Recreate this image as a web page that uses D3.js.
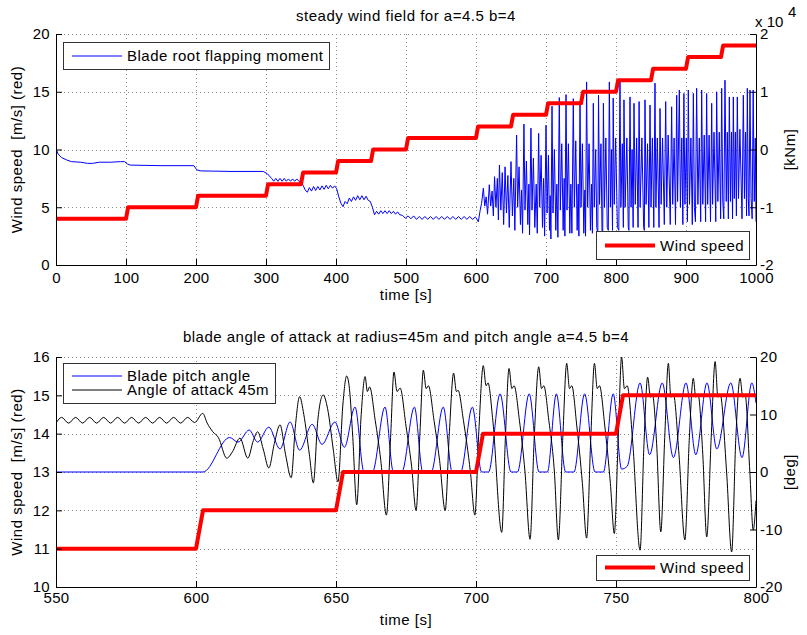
<!DOCTYPE html>
<html>
<head>
<meta charset="utf-8">
<script src="https://cdn.jsdelivr.net/npm/d3@7"></script>
<style>
body { margin: 0; background: #fff; }
text { font-family: "Liberation Sans", Arial, sans-serif; font-size: 15px; fill: #000; white-space: pre; }
.lbl { letter-spacing: 0.5px; }
.tick text { letter-spacing: 0.3px; }
</style>
</head>
<body>
<svg id="chart" width="807" height="635"></svg>
<script>
// ---- data ----
// top panel: wind speed [m/s], time [s]
const windTop = [[0,4],[100,4],[103,5],[200,5],[203,6],[300,6],[303,7],[350,7],[353,8],[400,8],[403,9],[450,9],[453,10],
  [500,10],[503,11],[600,11],[603,12],[650,12],[653,13],[700,13],[703,14],[750,14],[753,15],[800,15],[803,16],
  [850,16],[853,17],[900,17],[903,18],[950,18],[953,19],[1000,19]];

// top panel: blade root flapping moment, x 10^4 kNm, steady part 0-600 s
const momentSteady = [[0,0.02],[3,-0.08],[8,-0.14],[15,-0.18],[22,-0.21],[35,-0.22],[45,-0.24],[52,-0.24],[62,-0.22],
  [78,-0.22],[92,-0.21],[98,-0.21],[102,-0.25],[106,-0.27],[150,-0.28],[197,-0.28],[201,-0.35],[206,-0.37],[250,-0.38],
  [296,-0.38],[302,-0.42],[308,-0.5],[311,-0.55],[314,-0.5],[317,-0.55],[320,-0.5],[323,-0.55],[326,-0.5],[329,-0.55],
  [332,-0.51],[335,-0.55],[338,-0.51],[341,-0.55],[344,-0.51],[347,-0.55],[350,-0.55],[353,-0.62],[356,-0.7],[359,-0.74],
  [362,-0.66],[365,-0.72],[368,-0.64],[371,-0.71],[374,-0.64],[377,-0.7],[380,-0.63],[383,-0.69],[386,-0.62],[389,-0.68],
  [392,-0.62],[395,-0.67],[398,-0.63],[401,-0.68],[404,-0.82],[407,-0.93],[410,-0.99],[413,-0.9],[416,-0.94],[419,-0.84],
  [422,-0.9],[425,-0.82],[428,-0.88],[431,-0.8],[434,-0.87],[437,-0.8],[440,-0.87],[443,-0.81],[446,-0.88],[449,-0.9],
  [452,-1.0],[455,-1.13],[458,-1.07],[461,-1.12],[464,-1.06],[467,-1.11],[470,-1.06],[473,-1.11],[476,-1.06],[479,-1.11],
  [482,-1.07],[485,-1.12],[488,-1.08],[491,-1.13],[495,-1.14],[499,-1.19],[503,-1.15],[507,-1.2],[511,-1.15],[515,-1.21],
  [519,-1.16],[523,-1.21],[527,-1.16],[531,-1.21],[535,-1.16],[539,-1.21],[543,-1.16],[547,-1.21],[551,-1.16],[555,-1.21],
  [559,-1.16],[563,-1.21],[567,-1.16],[571,-1.21],[575,-1.16],[579,-1.21],[583,-1.16],[587,-1.21],[591,-1.16],[595,-1.21],
  [599,-1.17],[600,-1.18]];

// top panel: flapping moment, oscillating part 600-1000 s
const momentOsc = [[600,-1.18],[603.3,-1.25],[606,-1.05],[608,-0.93],[610.5,-0.67],[612.5,-0.98],[614.5,-0.82],[616.5,-1.12],
  [619,-0.61],[621,-0.98],[623,-0.72],[624.8,-1.15],[626.5,-0.47],[628.5,-1.0],[630.5,-0.5],[632,-1.22],[633.5,-0.27],
  [635.5,-1.05],[637.5,-0.4],[639.5,-1.3],[641.5,-0.3],[643.5,-1.1],[645.5,-0.45],[647.5,-1.35],[650,-0.21],[652,-1.15],
  [654,-0.5],[655.5,-1.4],
  [658,0.25],[659.5,-1.0],[661.5,-0.3],[663.5,-1.3],[665,-0.7],[666.5,-1.45],
  [668.5,0.44],[670,-1.05],[672,-0.2],[674,-1.3],[675.5,-0.6],[676.5,-1.48],
  [678.5,0.37],[680,-1.05],[682,-0.15],[684,-1.35],[686,-0.6],[687.5,-1.45],
  [689.5,0.28],[691,-1.0],[693,-0.1],[695,-1.35],[696.5,-0.5],[698,-1.5],
  [700,0.42],[701.5,-1.1],[703.5,-0.1],[705,-1.4],[706,-0.8],[707,-1.55],
  [708.6,0.75],[710,-1.1],[712,0.0],[714,-1.4],[715.5,-0.6],[717,-1.52],
  [719,0.9],[720.5,-1.05],[722.5,0.1],[724.5,-1.4],[726,-0.5],[727,-1.5],
  [728.6,0.95],[730,-1.05],[732,0.1],[734,-1.45],[735.5,-0.6],[737,-1.45],
  [739,0.88],[740.5,-1.0],[742.5,0.15],[744.5,-1.4],[746,-0.6],[747,-1.5],
  [748.6,0.83],[750,-1.0],[752,0.1],[754,-1.45],[755.5,-0.7],[756.5,-1.5],
  [758,1.17],[759.5,-1.0],[761.5,0.1],[763.5,-1.4],[765,-0.6],[766.3,-1.45],
  [767.6,0.8],[769,-1.0],[771,0.0],[772.5,-1.35],[774,-1.45],
  [775,0.94],[776.5,-0.95],[778.5,0.1],[780,-1.4],[781,-1.45],
  [782,0.8],[783.5,-1.0],[785.5,0.2],[787.5,-1.35],[789,-1.4],
  [790.5,1.17],[792,-1.0],[793.5,0.0],[795,-1.4],
  [796,0.89],[797.5,-0.95],[799.5,0.2],[802,-1.35],[804,-1.4],
  [805.7,1.2],[807,-1.0],[809,0.1],[810.5,-1.35],
  [811.4,0.86],[813,-1.0],[815.5,0.2],[817.5,-1.35],[818.5,-1.4],
  [820,0.91],[821.5,-1.0],[823,0.0],[824.5,-1.35],
  [825.7,0.8],[827.5,-0.95],[829.5,0.2],[831.5,-1.35],
  [833,0.83],[834.5,-1.0],[837,0.2],[839.5,-1.35],[840.5,-1.4],
  [841.4,0.86],[843,-0.95],[845,0.1],[847,-1.35],
  [848.6,0.77],[850,-1.0],[852,0.2],[854,-1.35],
  [855.7,1.15],[857,-1.0],[859,0.2],[861.5,-1.35],
  [862.9,0.71],[864.5,-0.95],[866.5,0.2],[869,-1.3],
  [871,0.83],[872.5,-1.0],[874.5,0.25],[877.5,-1.3],
  [879.5,0.74],[881,-0.95],[883,0.2],[885,-1.3],
  [886.7,0.94],[888,-0.9],[890.5,1.03],[892,-1.0],[894,0.2],[895.5,-1.3],
  [897,0.97],[898.5,-0.95],[900.5,0.2],[902,-1.25],
  [903.3,1.03],[905,-0.95],[907,0.2],[909,-1.3],
  [910.5,0.97],[912,-1.0],[913.5,-1.25],[915.2,1.06],[917,-0.95],[919,0.2],[921,-1.25],
  [922.4,1.03],[924,-0.95],[926,0.25],[928,-1.25],
  [929.5,0.97],[931,-0.95],[933,0.25],[935,-1.25],
  [936.7,0.8],[938,-0.95],[940,0.3],[942.5,-1.25],
  [943.8,1.0],[945.5,-0.9],[947.5,0.3],[949.5,-1.2],
  [951,1.06],[952.5,-0.9],[954,-1.2],
  [955.7,1.2],[957.5,-0.9],[959,0.3],[960.5,-1.2],
  [961.9,0.91],[963.5,-0.9],[965,0.3],[966.5,-1.2],
  [967.6,0.91],[969,-0.85],[970.5,0.3],[972,-1.15],
  [973.3,0.91],[975,-0.85],[977,0.35],[980,-1.2],
  [981.9,0.94],[983.5,-0.85],[985,0.3],[986.5,-1.15],
  [987.6,1.06],[989,-0.85],[990,-1.15],
  [991.4,1.03],[993,-0.85],[994.5,-1.2],
  [996,1.03],[997.5,-0.9],[999,0.2],[1000,-1.25]];

// bottom panel: wind speed [m/s]
const windBottom = [[550,11],[600,11],[602.5,12],[650,12],[652.5,13],[700,13],[702.5,14],[750,14],[752.5,15],[800,15]];

// bottom panel: blade pitch angle [deg]
const pitchAngle = [[550,0],[602.5,0],[612,6],[615,5.2],[619,7.3],[622,5.2],[626,7.8],[630,4],[633.6,8.7],[637,3.8],
  [641.5,8.3],[645,4.8],[649.6,8.7],[653,4.3],[656.8,11.3],[660,0],[663,0],[667.5,11.3],[670.5,0],[673.5,0],[678,11.3],
  [681,0],[684,0],[688.3,11.3],[691.5,0],[694.5,0],[698.7,11.3],[702,0],[704.5,0],[708.6,13.6],[712.5,0],[714.8,0],
  [719,13.6],[722.5,0],[725.5,0],[728.7,13.6],[732,0],[735,0],[738.8,13.6],[742.5,0],[745.5,0],[749,13.6],[752,0.5],
  [754,1],[758.6,15.5],[762,3],[766.5,15.5],[770.5,2.5],[775,15.5],[778.5,3],[782.5,15.5],[786,4],[791,15.5],[795,2.5],
  [798.5,15.5],[800,12]];

// bottom panel: angle of attack at 45 m [deg]
const attackAngle = [[550,8.5],[552,9.5],[554.5,8.5],[557,9.5],[559.5,8.5],[562,9.5],[564.5,8.5],[567,9.5],[569.5,8.5],
  [572,9.5],[574.5,8.5],[577,9.5],[579.5,8.5],[582,9.5],[584.5,8.5],[587,9.5],[589.5,8.5],[592,9.5],[594.5,8.5],[597,9.5],
  [599.5,8.6],[602.4,10.2],[604,8.5],[606,7],[608,6],[611,2.4],[613,3.5],[615.7,5.9],[618.5,2.4],[620.5,5.5],[622,7],
  [624,4],[626,0.7],[628,5],[630,8.2],[632,3],[634,-1],[635.5,8],[637,13.1],[638.5,10],[640.5,3],[641.9,-1.9],[643.5,9],
  [645.4,13.4],[647,11],[649,4],[650.7,-1.7],[652.5,12],[653.8,16.7],[654.8,14.5],[656,6],[657.4,-5.7],[659,10],
  [660.4,16.6],[661.2,14],[662,14.8],[664,9],[666,2],[668,-7.5],[669.5,6],[670.7,17.4],[671.8,14],[672.9,14.6],[675,8],
  [677,1],[678.6,-6.7],[680,7],[681.2,17.7],[682.2,14.5],[683,15],[685,9],[687,2],[689,-6.7],[690.5,7],[692,17.2],
  [693,14],[693.6,14.2],[695.5,9],[698,0],[699.6,-7.5],[701,7],[702.6,18.5],[703.6,15],[704.3,15.5],[706,9],
  [709.2,-10.5],[710.5,6],[711.8,18],[712.8,14.5],[713.6,15],[715.5,9],[717.5,0],[719.3,-11.7],[720.8,6],[722.4,18.3],
  [723.4,14.5],[724.2,15],[726,9],[728,0],[729.4,-11.8],[731,6],[732.4,18.9],[733.4,14.5],[734.2,15],[736,8],[738,-2],
  [739.5,-11.5],[741,6],[742.3,18.9],[743.3,14.5],[744.1,15],[746,8],[748,-2],[749.4,-10.7],[750.8,6],[752,20],
  [753,14.5],[754,15],[756,5],[758.6,-13.6],[760,5],[761.3,16.5],[762.3,13],[763,13.5],[764.5,5],[766,-10.4],
  [767.4,6],[768.7,18.9],[769.6,13],[770.5,13.5],[772.5,3],[774.6,-11.8],[776.2,6],[777.6,16.3],[778.5,13],
  [779.3,13.5],[781,3],[782.4,-11.3],[784,6],[785.4,19.2],[786.4,13],[787.2,13.5],[789.5,0],[791.3,-13.9],[792.8,6],
  [794.3,16.3],[795.3,13],[796.1,13.5],[797.8,0],[799,-10.1],[800,-5]];

const topTicksX = [0,100,200,300,400,500,600,700,800,900,1000];
const topTicksL = [0,5,10,15,20];
const topTicksR = [-2,-1,0,1,2];
const botTicksX = [550,600,650,700,750,800];
const botTicksL = [10,11,12,13,14,15,16];
const botTicksR = [-20,-10,0,10,20];

const svg = d3.select('#chart');
svg.append('rect').attr('width', 807).attr('height', 635).attr('fill', '#fff');

const left = 56, right = 756;

function drawPanel(p) {
    const x = d3.scaleLinear().domain(p.xDomain).range([left, right]);
    const yL = d3.scaleLinear().domain(p.yLDomain).range([p.bottom, p.top]);
    const yR = d3.scaleLinear().domain(p.yRDomain).range([p.bottom, p.top]);
    const g = svg.append('g');

    g.append('clipPath').attr('id', p.id + '-clip')
        .append('rect').attr('x', left).attr('y', p.top).attr('width', right - left).attr('height', p.bottom - p.top);

    // dotted grid
    const grid = g.append('g').attr('stroke', '#8c8c8c').attr('stroke-dasharray', '1,3').attr('stroke-width', 1);
    grid.selectAll('.gx').data(p.ticksX).join('line')
        .attr('x1', d => Math.round(x(d)) + 0.5).attr('x2', d => Math.round(x(d)) + 0.5)
        .attr('y1', p.top).attr('y2', p.bottom);
    grid.selectAll('.gy').data(p.ticksL).join('line')
        .attr('x1', left).attr('x2', right)
        .attr('y1', d => Math.round(yL(d)) + 0.5).attr('y2', d => Math.round(yL(d)) + 0.5);

    const plot = g.append('g').attr('clip-path', `url(#${p.id}-clip)`);
    p.rightSeries.forEach(s => {
        const line = d3.line().x(d => x(d[0])).y(d => yR(d[1]));
        if (s.curve) line.curve(s.curve);
        plot.append('path').datum(s.data)
            .attr('fill', 'none').attr('stroke', s.color).attr('stroke-width', 1)
            .attr('d', line);
    });
    const redLine = d3.line().x(d => x(d[0])).y(d => yL(d[1]));
    plot.append('path').datum(p.wind)
        .attr('fill', 'none').attr('stroke', '#ff0000').attr('stroke-width', 4)
        .attr('stroke-linejoin', 'round').attr('d', redLine);

    // axes, ticks pointing inward like matlab
    const fmt = d => String(d);
    g.append('g').attr('transform', `translate(0,${p.bottom})`)
        .call(d3.axisBottom(x).tickValues(p.ticksX).tickFormat(fmt).tickSize(-6).tickSizeOuter(0).tickPadding(p.xPad));
    g.append('g').attr('transform', `translate(${left},0)`)
        .call(d3.axisLeft(yL).tickValues(p.ticksL).tickFormat(fmt).tickSize(-6).tickSizeOuter(0).tickPadding(6));
    g.append('g').attr('transform', `translate(${right},0)`)
        .call(d3.axisRight(yR).tickValues(p.ticksR).tickFormat(fmt).tickSize(-6).tickSizeOuter(0).tickPadding(4));
    g.selectAll('.tick text').attr('font-size', 15).attr('font-family', null);
    g.selectAll('.domain, .tick line').attr('stroke', '#000');

    // texts
    g.append('text').attr('class', 'lbl').attr('x', (left + right) / 2).attr('y', p.titleY)
        .attr('text-anchor', 'middle').text(p.title);
    g.append('text').attr('class', 'lbl').attr('x', (left + right) / 2).attr('y', p.xLabelY)
        .attr('text-anchor', 'middle').text('time [s]');
    g.append('text').attr('class', 'lbl')
        .attr('transform', `translate(22,${(p.top + p.bottom) / 2}) rotate(-90)`)
        .attr('text-anchor', 'middle').text('Wind speed  [m/s] (red)');
    g.append('text').attr('class', 'lbl')
        .attr('transform', `translate(795,${(p.top + p.bottom) / 2}) rotate(-90)`)
        .attr('text-anchor', 'middle').text(p.rightLabel);

    // legends
    p.legends.forEach(lg => {
        const lgG = g.append('g');
        lgG.append('rect').attr('x', lg.x + 0.5).attr('y', lg.y + 0.5).attr('width', lg.w).attr('height', lg.h)
            .attr('fill', '#fff').attr('stroke', '#333');
        lg.items.forEach((it, i) => {
            const cy = lg.y + lg.first + i * lg.step;
            lgG.append('line').attr('x1', lg.x + 9).attr('x2', lg.x + 59).attr('y1', cy).attr('y2', cy)
                .attr('stroke', it.color).attr('stroke-width', it.width);
            lgG.append('text').attr('class', 'lbl').attr('x', lg.x + 64).attr('y', cy + 5).text(it.label);
        });
    });
    return { x, yL, yR, g };
}

const topPanel = drawPanel({
    id: 'top', top: 34, bottom: 265, xPad: 7, xLabelY: 300, titleY: 21,
    xDomain: [0, 1000], yLDomain: [0, 20], yRDomain: [-2, 2],
    ticksX: topTicksX, ticksL: topTicksL, ticksR: topTicksR,
    title: 'steady wind field for a=4.5 b=4', rightLabel: '[kNm]',
    wind: windTop,
    rightSeries: [
        { data: momentSteady.concat(momentOsc), color: '#0000ff' }
    ],
    legends: [
        { x: 63, y: 42, w: 266, h: 27, first: 14, step: 13,
          items: [{ label: 'Blade root flapping moment', color: '#0000ff', width: 1 }] },
        { x: 596, y: 231, w: 153, h: 28, first: 14.5, step: 13,
          items: [{ label: 'Wind speed', color: '#ff0000', width: 4 }] }
    ]
});

// exponent label of the right axis
topPanel.g.append('text').attr('x', 755).attr('y', 27).text('x 10');
topPanel.g.append('text').attr('x', 788).attr('y', 17).attr('font-size', 10).text('4');

drawPanel({
    id: 'bot', top: 357, bottom: 587, xPad: 5, xLabelY: 625, titleY: 342,
    xDomain: [550, 800], yLDomain: [10, 16], yRDomain: [-20, 20],
    ticksX: botTicksX, ticksL: botTicksL, ticksR: botTicksR,
    title: 'blade angle of attack at radius=45m and pitch angle a=4.5 b=4', rightLabel: '[deg]',
    wind: windBottom,
    rightSeries: [
        { data: pitchAngle, color: '#0000ff', curve: d3.curveMonotoneX },
        { data: attackAngle, color: '#000000', curve: d3.curveMonotoneX }
    ],
    legends: [
        { x: 63, y: 363, w: 212, h: 40, first: 13, step: 14,
          items: [{ label: 'Blade pitch angle', color: '#0000ff', width: 1 },
                  { label: 'Angle of attack 45m', color: '#000000', width: 1 }] },
        { x: 596, y: 555, w: 153, h: 25, first: 12.5, step: 13,
          items: [{ label: 'Wind speed', color: '#ff0000', width: 4 }] }
    ]
});
</script>
</body>
</html>
